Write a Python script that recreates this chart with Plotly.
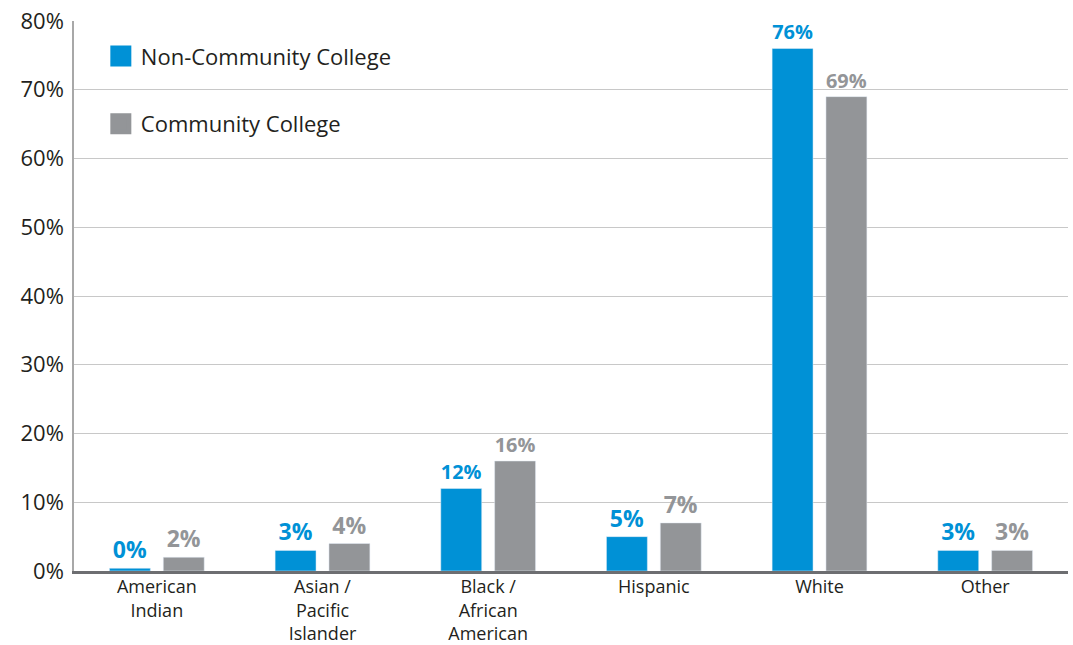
import plotly.graph_objects as go

categories = ["American<br>Indian", "Asian /<br>Pacific<br>Islander", "Black /<br>African<br>American",
              "Hispanic", "White", "Other"]
non_cc = [0.4, 3, 12, 5, 76, 3]
non_cc_labels = ["0%", "3%", "12%", "5%", "76%", "3%"]
cc = [2, 4, 16, 7, 69, 3]
cc_labels = ["2%", "4%", "16%", "7%", "69%", "3%"]
y_ticks = [0, 10, 20, 30, 40, 50, 60, 70, 80]
y_tick_text = [f"{v}%" for v in y_ticks]

BLUE = "#0091d6"
GRAY = "#939598"
TEXT = "#231f20"
FONT = "Open Sans"

fig = go.Figure()
fig.add_trace(go.Bar(x=categories, y=non_cc, name="Non-Community College",
                     marker_color=BLUE, text=non_cc_labels, textposition="outside",
                     textfont=dict(color=BLUE, size=23, family=FONT, weight="bold"),
                     cliponaxis=False, showlegend=False))
fig.add_trace(go.Bar(x=categories, y=cc, name="Community College",
                     marker_color=GRAY, text=cc_labels, textposition="outside",
                     textfont=dict(color=GRAY, size=23, family=FONT, weight="bold"),
                     cliponaxis=False, showlegend=False))
# legend entries with large square swatches
for name, col, grp in [("Non-Community College", BLUE, "a"), ("Community College", GRAY, "b")]:
    fig.add_trace(go.Scatter(x=[None], y=[None], mode="markers", name=name,
                             legendgroup=grp,
                             marker=dict(symbol="square", size=16, color=col,
                                         line=dict(color=col, width=5))))

fig.update_layout(
    width=1073, height=645,
    margin=dict(l=74, r=5, t=21, b=74),
    paper_bgcolor="white", plot_bgcolor="white",
    barmode="group", bargap=0.35, bargroupgap=0.24,
    font=dict(family=FONT, size=20, color=TEXT),
    showlegend=True,
    legend=dict(x=0.027, y=0.974, xanchor="left", yanchor="top",
                traceorder="grouped", tracegroupgap=36, itemsizing="trace",
                font=dict(size=22, color=TEXT, family=FONT),
                bgcolor="rgba(0,0,0,0)"),
)
fig.update_yaxes(range=[0, 80], tickmode="array", tickvals=y_ticks, ticktext=y_tick_text,
                 showgrid=True, gridcolor="#c8c8c8", gridwidth=1,
                 showline=True, linecolor="#a8a8a8", linewidth=1.5,
                 zeroline=False, ticks="", ticklabelstandoff=4,
                 ticklabeloverflow="allow", automargin=False,
                 tickfont=dict(size=22, color=TEXT))
fig.update_xaxes(showline=True, linecolor="#6d6e71", linewidth=2.5,
                 ticks="", automargin=False, ticklabelstandoff=-2,
                 tickfont=dict(size=18, color=TEXT))

fig.write_html("out.html",
               config={"displayModeBar": False},
               post_script="document.body.style.margin='0';document.body.style.overflow='hidden';")
